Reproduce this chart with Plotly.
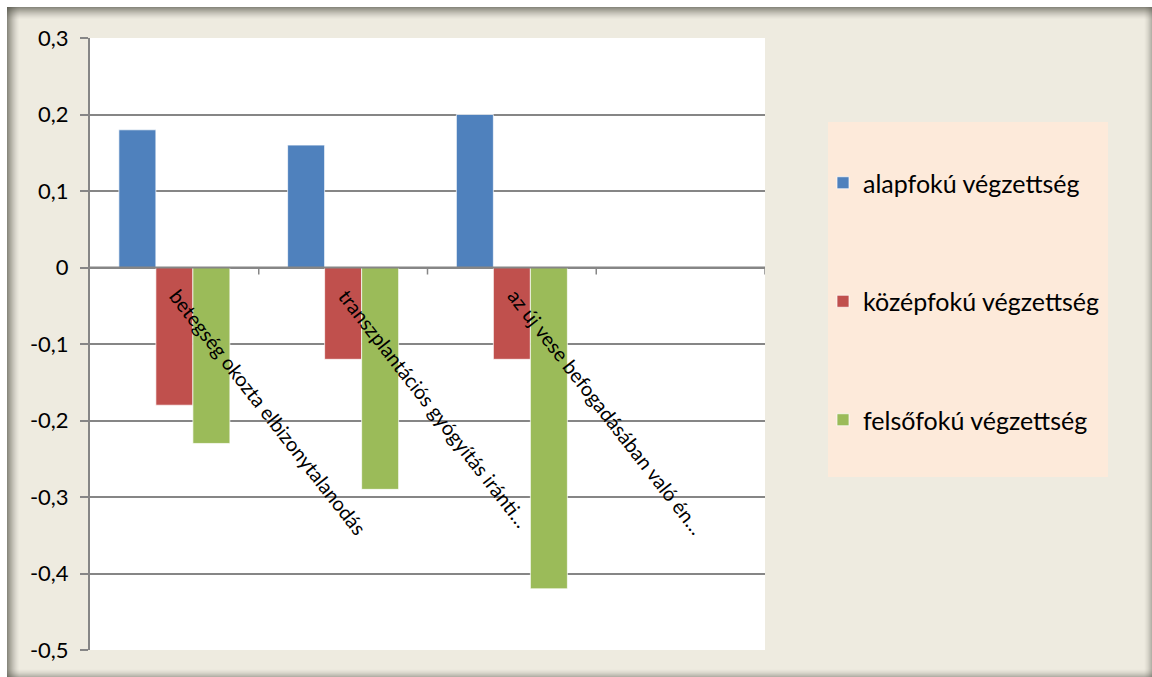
import plotly.graph_objects as go

# Categories (the fourth slot is an empty category on the axis)
categories = [
    "betegség okozta elbizonytalanodás",
    "transzplantációs gyógyítás iránti…",
    "az új vese befogadásában való én…",
    "",
]
series_names = ["alapfokú végzettség", "középfokú végzettség", "felsőfokú végzettség"]
alapfoku = [0.18, 0.16, 0.20]
kozepfoku = [-0.18, -0.12, -0.12]
felsofoku = [-0.23, -0.29, -0.42]

y_tick_vals = [0.3, 0.2, 0.1, 0.0, -0.1, -0.2, -0.3, -0.4, -0.5]
y_tick_text = ["0,3", "0,2", "0,1", "0", "-0,1", "-0,2", "-0,3", "-0,4", "-0,5"]

colors = ["#4F81BD", "#C0504D", "#9BBB59"]
FONT = "Lato"

W, H = 1152, 677
PL, PR, PT, PB = 90, 765, 38, 650  # plot area in pixels


def px_x(p):
    return (p - PL) / (PR - PL)


def px_y(p):
    return (PB - p) / (PB - PT)


fig = go.Figure()
xs = list(range(len(alapfoku)))
for name, vals, col in zip(series_names, [alapfoku, kozepfoku, felsofoku], colors):
    fig.add_trace(go.Bar(
        x=xs, y=vals, name=name, legendgroup=name,
        marker=dict(color=col, line=dict(color="rgba(255,255,255,0.7)", width=1)),
    ))

shapes = []
# chart background panel
shapes.append(dict(type="rect", xref="paper", yref="paper", layer="below",
                   x0=px_x(7), x1=px_x(W + 5), y0=px_y(7), y1=px_y(H + 5),
                   fillcolor="#EEEBE0", line=dict(width=0)))
# inner shadow along the panel edges
steps = 12
for i in range(steps):
    a = 0.6 * (1 - i / steps) ** 1.4
    c = f"rgba(70,70,60,{a:.3f})"
    shapes.append(dict(type="line", xref="paper", yref="paper", layer="below",
                       x0=px_x(7), x1=px_x(W), y0=px_y(7.5 + i), y1=px_y(7.5 + i),
                       line=dict(color=c, width=1)))
    shapes.append(dict(type="line", xref="paper", yref="paper", layer="below",
                       x0=px_x(7.5 + i), x1=px_x(7.5 + i), y0=px_y(7), y1=px_y(H),
                       line=dict(color=c, width=1)))
for i in range(8):
    a = 0.35 * (1 - i / 8) ** 1.6
    c = f"rgba(70,70,60,{a:.3f})"
    shapes.append(dict(type="line", xref="paper", yref="paper", layer="below",
                       x0=px_x(7), x1=px_x(W), y0=px_y(H - 0.5 - i), y1=px_y(H - 0.5 - i),
                       line=dict(color=c, width=1)))
    shapes.append(dict(type="line", xref="paper", yref="paper", layer="below",
                       x0=px_x(W - 0.5 - i), x1=px_x(W - 0.5 - i), y0=px_y(7), y1=px_y(H),
                       line=dict(color=c, width=1)))
# white plot area
shapes.append(dict(type="rect", xref="paper", yref="paper", layer="below",
                   x0=0, x1=1, y0=0, y1=1, fillcolor="white", line=dict(width=0)))
# legend panel
shapes.append(dict(type="rect", xref="paper", yref="paper", layer="below",
                   x0=px_x(828), x1=px_x(1108), y0=px_y(122), y1=px_y(477),
                   fillcolor="#FDEADA", line=dict(width=0)))
# horizontal category axis at zero, with tick marks between categories
n = len(categories)
shapes.append(dict(type="line", xref="x", yref="y", x0=-0.5, x1=n - 0.5, y0=0, y1=0,
                   line=dict(color="#868686", width=2)))
for k in range(n):
    shapes.append(dict(type="line", xref="x", yref="y", ysizemode="pixel", yanchor=0,
                       x0=k + 0.5, x1=k + 0.5, y0=0, y1=-7,
                       line=dict(color="#868686", width=1.5)))

annotations = []
for k, lab in enumerate(categories):
    if not lab:
        continue
    annotations.append(dict(
        x=k, y=0, xref="x", yref="y", text=lab, showarrow=False,
        textangle=52, xanchor="left", yanchor="top", xshift=-12, yshift=-14,
        font=dict(family=FONT, size=20, color="black"),
    ))

fig.update_layout(
    width=W, height=H,
    margin=dict(l=PL, r=W - PR, t=PT, b=H - PB, pad=0),
    paper_bgcolor="white", plot_bgcolor="rgba(0,0,0,0)",
    barmode="group", bargap=0.342, bargroupgap=0,
    shapes=shapes, annotations=annotations,
    showlegend=True,
    legend=dict(
        x=px_x(823), y=px_y(160), xanchor="left", yanchor="top",
        bgcolor="rgba(0,0,0,0)", borderwidth=0,
        font=dict(family=FONT, size=25, color="black"),
        tracegroupgap=83, traceorder="grouped",
    ),
    xaxis=dict(range=[-0.5, n - 0.5], showticklabels=False, showgrid=False,
               zeroline=False, showline=False, ticks="", fixedrange=True),
    yaxis=dict(range=[-0.5, 0.3], tickvals=y_tick_vals, ticktext=y_tick_text,
               showgrid=True, gridcolor="#868686", gridwidth=1.5,
               zeroline=False, showline=True, linecolor="#868686", linewidth=2,
               ticks="outside", ticklen=8, tickcolor="#868686", tickwidth=1.5,
               ticklabelstandoff=7,
               tickfont=dict(family=FONT, size=22, color="black")),
    font=dict(family=FONT),
)

fig.write_html("out.html")
